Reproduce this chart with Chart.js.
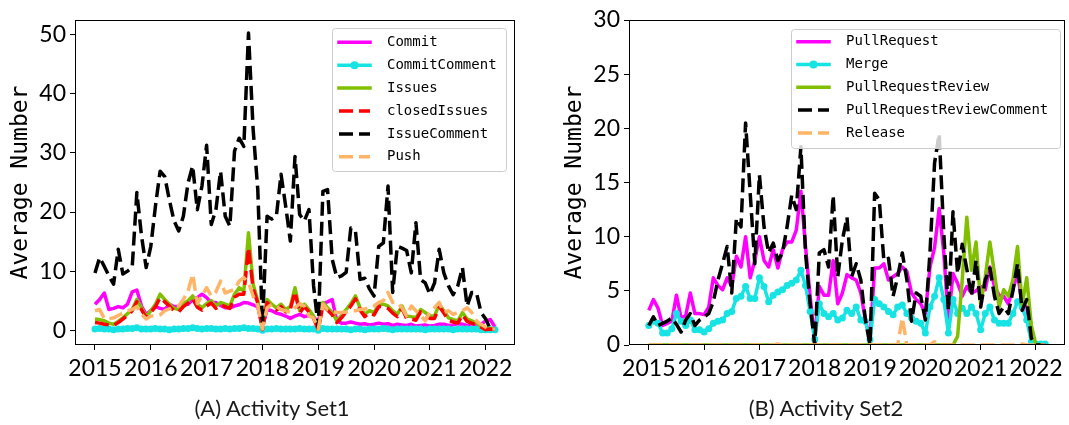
<!DOCTYPE html>
<html>
<head>
<meta charset="utf-8">
<script src="https://cdn.jsdelivr.net/npm/chart.js@4/dist/chart.umd.min.js"></script>
<style>
  html, body { margin: 0; padding: 0; background: #fff; }
  body { width: 1069px; height: 425px; position: relative; overflow: hidden; }
  .panel { position: absolute; top: 0; height: 425px; }
  #wrapA { left: 0; width: 530px; }
  #wrapB { left: 540px; width: 529px; }
  .caption { position: absolute; top: 394px; font-family: Lato, sans-serif; font-size: 22px;
             line-height: 28px; color: #1a1a1a; white-space: nowrap; transform: translateX(-50%); }
</style>
</head>
<body>
<div class="panel" id="wrapA"><canvas id="chartA" width="530" height="425"></canvas></div>
<div class="panel" id="wrapB"><canvas id="chartB" width="529" height="425"></canvas></div>
<div class="caption" style="left:272px">(A) Activity Set1</div>
<div class="caption" style="left:826px">(B) Activity Set2</div>
<script>
// Monthly averages, January 2015 – March 2022 (one row per year)
const startYear = 2015;
const yearTicks = [2015, 2016, 2017, 2018, 2019, 2020, 2021, 2022];

// ---- Activity Set 1 ----
const commit = [
  4.4, 5.2, 6.3, 3.5, 3.7, 4.0, 3.8, 4.4, 6.5, 6.8, 4.1, 2.7,
  3.3, 4.0, 3.7, 3.5, 4.4, 4.0, 4.0, 4.4, 4.4, 5.2, 5.5, 6.1,
  5.5, 4.7, 4.7, 4.2, 3.8, 3.8, 4.1, 4.3, 4.7, 4.6, 4.3, 4.0,
  0.5, 3.5, 3.3, 2.9, 2.7, 2.4, 2.0, 2.4, 2.7, 2.3, 2.5, 2.2,
  1.5, 4.5, 4.8, 5.2, 1.6, 1.2, 1.2, 1.4, 1.2, 1.0, 1.1, 0.9,
  1.0, 1.2, 1.0, 1.1, 0.8, 1.0, 0.9, 0.8, 1.0, 0.7, 0.8, 0.9,
  0.7, 0.8, 1.0, 1.0, 0.8, 0.9, 1.1, 1.0, 0.8, 0.9, 1.0, 1.0,
  1.6, 1.8, 0.5
];
const commitComment = [
  0.2, 0.3, 0.2, 0.2, 0.1, 0.2, 0.2, 0.3, 0.3, 0.4, 0.2, 0.2,
  0.2, 0.3, 0.2, 0.2, 0.1, 0.2, 0.2, 0.3, 0.3, 0.4, 0.3, 0.2,
  0.3, 0.3, 0.2, 0.2, 0.3, 0.2, 0.3, 0.3, 0.4, 0.3, 0.3, 0.2,
  0.0, 0.2, 0.2, 0.3, 0.2, 0.2, 0.2, 0.2, 0.3, 0.2, 0.2, 0.2,
  0.0, 0.3, 0.2, 0.2, 0.2, 0.2, 0.2, 0.1, 0.2, 0.2, 0.1, 0.2,
  0.2, 0.2, 0.3, 0.2, 0.1, 0.2, 0.2, 0.2, 0.2, 0.2, 0.2, 0.1,
  0.2, 0.2, 0.2, 0.2, 0.2, 0.1, 0.2, 0.2, 0.2, 0.2, 0.2, 0.1,
  0.1, 0.1, 0.1
];
const issues = [
  1.9, 1.8, 1.6, 1.2, 1.0, 1.5, 2.1, 2.8, 3.5, 5.2, 3.8, 2.3,
  3.3, 4.4, 6.1, 5.2, 4.4, 3.7, 3.5, 4.5, 5.0, 5.8, 4.4, 3.8,
  4.5, 5.0, 4.1, 4.7, 4.4, 4.1, 6.1, 7.2, 6.6, 16.5, 7.8, 5.0,
  0.2, 5.2, 4.4, 3.8, 4.4, 3.5, 4.0, 7.2, 3.3, 4.4, 3.5, 2.4,
  0.2, 4.7, 3.8, 3.0, 1.6, 2.5, 3.5, 4.5, 5.8, 3.8, 2.7, 3.3,
  3.0, 4.4, 4.4, 4.1, 3.3, 2.7, 4.1, 2.4, 2.3, 2.1, 3.5, 3.0,
  2.4, 2.4, 4.4, 3.3, 2.1, 1.8, 1.6, 3.0, 1.9, 1.6, 1.3, 0.7,
  0.2, 0.3, 0.2
];
const closedIssues = [
  1.3, 1.2, 1.0, 0.9, 0.8, 1.3, 1.9, 2.5, 3.3, 4.8, 3.5, 2.1,
  3.0, 4.0, 5.5, 4.8, 4.1, 3.3, 3.1, 4.0, 4.6, 5.3, 3.9, 3.4,
  4.1, 4.6, 3.7, 4.3, 4.0, 3.7, 5.6, 6.1, 6.1, 14.0, 7.0, 4.6,
  0.1, 4.7, 3.9, 3.4, 4.0, 3.1, 3.6, 6.5, 2.9, 4.0, 3.1, 2.0,
  0.1, 4.2, 3.4, 2.6, 1.3, 2.1, 3.1, 4.1, 5.3, 3.4, 2.3, 2.9,
  2.6, 4.0, 4.0, 3.7, 2.9, 2.3, 3.7, 2.0, 1.9, 1.7, 3.1, 2.6,
  2.0, 2.0, 4.0, 2.9, 1.7, 1.4, 1.2, 2.6, 1.5, 1.2, 0.9, 0.5,
  0.1, 0.2, 0.1
];
const issueComment = [
  9.7, 12.3, 10.8, 9.2, 7.8, 13.7, 9.5, 10.0, 10.6, 23.3, 16.0, 10.6,
  14.2, 21.0, 26.9, 26.0, 22.0, 18.5, 16.8, 19.3, 24.9, 27.8, 20.4, 24.4,
  31.3, 17.9, 20.4, 26.9, 19.3, 17.6, 30.3, 32.5, 31.1, 50.3, 34.0, 23.8,
  1.0, 19.3, 18.8, 19.3, 26.4, 21.0, 15.1, 29.4, 19.6, 18.5, 20.4, 7.5,
  0.5, 23.5, 23.8, 12.0, 8.9, 9.2, 9.8, 17.3, 16.8, 8.6, 8.8, 7.0,
  5.8, 14.2, 14.8, 24.4, 6.4, 14.2, 13.9, 13.5, 9.7, 18.2, 8.6, 8.0,
  6.1, 8.0, 13.7, 9.7, 7.5, 6.0, 7.5, 10.6, 4.1, 6.4, 6.4, 3.0,
  1.9, 0.2, 0.2
];
const push = [
  3.3, 3.5, 2.0, 1.9, 2.1, 2.5, 2.9, 3.3, 3.5, 4.0, 2.7, 1.9,
  2.4, 2.4, 2.6, 3.3, 3.6, 4.0, 4.1, 5.2, 6.6, 9.5, 4.5, 5.8,
  7.2, 5.8, 6.5, 8.3, 6.3, 6.6, 6.9, 8.3, 8.9, 8.1, 5.8, 4.1,
  0.2, 3.8, 4.4, 4.0, 3.5, 3.3, 3.0, 3.8, 4.5, 4.1, 2.4, 2.1,
  0.2, 4.4, 3.5, 3.2, 3.0, 3.0, 3.1, 3.3, 3.3, 3.5, 3.6, 3.8,
  4.1, 4.7, 5.0, 6.4, 4.7, 4.7, 3.8, 2.4, 4.1, 3.3, 2.5, 1.6,
  3.0, 3.8, 4.7, 3.0, 3.3, 2.7, 3.0, 3.3, 3.8, 3.0, 1.6, 1.0,
  0.5, 0.2, 0.2
];

// ---- Activity Set 2 ----
const pullRequest = [
  3.2, 4.2, 3.4, 1.8, 2.0, 2.2, 4.6, 2.5, 2.7, 4.8, 2.9, 2.9,
  2.8, 3.5, 6.2, 5.5, 5.1, 6.2, 5.4, 8.2, 7.2, 10.0, 6.2, 7.8,
  10.0, 7.8, 7.2, 8.8, 7.1, 8.8, 9.5, 9.5, 10.6, 14.2, 9.1, 4.5,
  0.5, 5.4, 4.6, 4.6, 7.8, 3.8, 4.8, 6.5, 6.2, 6.0, 4.8, 2.3,
  0.5, 7.1, 7.1, 7.5, 6.0, 6.3, 6.6, 7.2, 6.8, 4.8, 4.2, 3.8,
  2.9, 7.2, 9.0, 12.6, 8.5, 2.3, 6.6, 5.7, 4.5, 5.4, 4.8, 5.0,
  5.4, 5.1, 7.2, 5.4, 4.6, 4.5, 3.8, 5.2, 6.6, 3.8, 3.5, 0.6,
  0.0, 0.0, 0.0
];
const merge = [
  1.8, 2.2, 2.0, 1.1, 1.1, 1.5, 2.9, 2.2, 1.8, 2.3, 1.4, 1.4,
  1.2, 1.5, 2.0, 2.2, 2.3, 2.9, 3.1, 4.3, 4.5, 5.4, 4.3, 4.3,
  6.2, 5.4, 4.0, 4.6, 4.9, 5.1, 5.5, 5.7, 6.0, 6.9, 5.5, 3.1,
  0.5, 3.8, 2.9, 2.6, 2.9, 2.3, 2.5, 3.2, 2.9, 3.5, 2.3, 2.2,
  0.5, 4.2, 3.8, 3.5, 3.1, 2.8, 3.5, 3.7, 2.9, 2.5, 2.2, 2.0,
  1.1, 3.5, 4.5, 6.2, 4.2, 1.1, 4.2, 2.9, 3.4, 2.9, 3.5, 2.9,
  1.4, 2.9, 3.5, 2.3, 2.0, 2.0, 2.0, 2.9, 4.0, 3.5, 2.3, 0.3,
  0.1, 0.1, 0.1
];
const pullRequestReview = [
  0, 0, 0, 0, 0, 0, 0, 0, 0, 0, 0, 0,
  0, 0, 0, 0, 0, 0, 0, 0, 0, 0, 0, 0,
  0, 0, 0, 0, 0, 0, 0, 0, 0, 0, 0, 0,
  0, 0, 0, 0, 0, 0, 0, 0, 0, 0, 0, 0,
  0, 0, 0, 0, 0, 0, 0, 0, 0, 0, 0, 0,
  0, 0, 0, 0, 0, 0, 0, 0.8, 6.0, 11.8, 6.9, 9.5,
  3.8, 6.3, 9.5, 6.6, 3.5, 5.1, 4.5, 6.0, 9.1, 3.7, 6.2, 1.8,
  0, 0, 0
];
const pullRequestReviewComment = [
  1.8, 2.6, 1.8, 2.0, 2.2, 2.5, 1.9, 1.2, 2.3, 2.9, 1.8, 2.3,
  2.6, 2.9, 4.0, 6.0, 7.5, 9.1, 4.8, 11.7, 10.9, 20.5, 14.0, 7.5,
  15.7, 10.9, 8.5, 9.4, 7.8, 8.5, 10.9, 13.8, 12.5, 18.3, 8.5, 3.8,
  0.0, 8.5, 8.8, 7.2, 13.8, 6.3, 9.7, 11.8, 6.3, 7.5, 6.0, 2.3,
  0.0, 14.0, 13.4, 7.8, 8.0, 4.5, 6.3, 8.5, 6.0, 2.2, 4.8, 4.5,
  2.3, 8.5, 16.8, 19.5, 10.3, 3.2, 12.3, 6.6, 9.3, 7.0, 4.5, 7.8,
  3.5, 6.0, 7.1, 4.5, 2.9, 3.5, 2.9, 5.0, 7.5, 3.2, 4.2, 0.6,
  0, 0, 0
];
const release = [
  0, 0, 0, 0, 0, 0, 0, 0, 0, 0, 0, 0,
  0, 0, 0, 0, 0, 0, 0, 0, 0, 0, 0, 0,
  0, 0, 0, 0, 0.1, 0, 0, 0, 0, 0, 0, 0,
  0, 0, 0, 0, 0, 0, 0, 0, 0, 0, 0, 0,
  0, 0, 0, 0, 0, 0, 0, 2.5, 0, 0, 0, 0,
  0, 0, 0.3, 0, 0, 0, 0, 0, 0, 0, 0, 0,
  0, 0, 0, 0, 0, 0, 0, 0, 0, 0.1, 0, 0,
  0, 0, 0
];

// decimal-year position of each month
const months = commit.map((_, i) => startYear + i / 12);

const COLORS = {
  magenta: '#ff00ff',
  cyan: '#17e3e3',
  green: '#80c000',
  red: '#ff0000',
  black: '#000000',
  orange: '#ffb468'
};
const DASH = [14, 6];

function series(label, values, color, opts = {}) {
  return Object.assign({
    label,
    data: values.map((v, i) => ({ x: months[i], y: v })),
    borderColor: color,
    backgroundColor: color,
    borderWidth: 3.5,
    borderJoinStyle: 'round',
    borderCapStyle: 'butt',
    pointRadius: 0,
    pointBorderWidth: 0,
    pointBackgroundColor: color,
    fill: false,
    tension: 0
  }, opts);
}

// plot frame drawn over the lines, like closed axes spines
const framePlugin = {
  id: 'frame',
  afterDatasetsDraw(chart) {
    const { ctx, chartArea: a } = chart;
    const l = Math.round(a.left) + 0.5, r = Math.round(a.right) - 0.5;
    const t = Math.round(a.top) + 0.5, b = Math.round(a.bottom) - 0.5;
    ctx.save();
    ctx.strokeStyle = '#000';
    ctx.lineWidth = 1;
    ctx.setLineDash([]);
    ctx.strokeRect(l, t, r - l, b - t);
    ctx.restore();
  }
};

// boxed legend placed inside the plot area
const boxLegend = {
  id: 'boxLegend',
  afterDraw(chart, args, o) {
    const { ctx } = chart;
    ctx.save();
    ctx.beginPath();
    const r = 3, x = o.x + 0.5, y = o.y + 0.5, w = o.w, h = o.h;
    ctx.moveTo(x + r, y);
    ctx.arcTo(x + w, y, x + w, y + h, r);
    ctx.arcTo(x + w, y + h, x, y + h, r);
    ctx.arcTo(x, y + h, x, y, r);
    ctx.arcTo(x, y, x + w, y, r);
    ctx.closePath();
    ctx.fillStyle = 'rgba(255,255,255,0.8)';
    ctx.fill();
    ctx.strokeStyle = '#cccccc';
    ctx.lineWidth = 1;
    ctx.stroke();

    chart.data.datasets.forEach((ds, k) => {
      const cy = o.y + o.firstRow + k * o.rowGap;
      const sx0 = o.x + o.sampleStart, sx1 = o.x + o.sampleEnd;
      ctx.strokeStyle = ds.borderColor;
      ctx.lineWidth = ds.borderWidth;
      ctx.lineCap = ds.borderDash ? 'butt' : 'square';
      ctx.setLineDash(ds.borderDash || []);
      ctx.beginPath();
      ctx.moveTo(sx0, cy);
      ctx.lineTo(sx1, cy);
      ctx.stroke();
      ctx.setLineDash([]);
      if (ds.pointRadius > 0) {
        ctx.fillStyle = ds.pointBackgroundColor;
        ctx.beginPath();
        ctx.arc((sx0 + sx1) / 2, cy, ds.pointRadius + 0.5, 0, Math.PI * 2);
        ctx.fill();
      }
      ctx.fillStyle = '#000';
      ctx.font = o.font;
      ctx.textBaseline = 'middle';
      ctx.textAlign = 'left';
      ctx.fillText(ds.label, o.x + o.textStart, cy);
    });
    ctx.restore();
  }
};

function makeChart(canvasId, datasets, y, layout) {
  return new Chart(document.getElementById(canvasId), {
    type: 'line',
    data: { datasets },
    plugins: [framePlugin, boxLegend],
    options: {
      responsive: false,
      animation: false,
      events: [],
      devicePixelRatio: 1,
      layout: { padding: { top: 20, right: layout.padRight, left: 0, bottom: 0 } },
      plugins: {
        legend: { display: false },
        tooltip: { enabled: false },
        boxLegend: layout.legend
      },
      scales: {
        x: {
          type: 'linear',
          min: 2014.642,
          max: 2022.525,
          afterBuildTicks: (s) => { s.ticks = yearTicks.map(v => ({ value: v })); },
          afterFit: (s) => { s.height = 80; },
          border: { display: false },
          grid: { display: true, drawOnChartArea: false, drawTicks: true, tickLength: 5, color: '#000' },
          ticks: {
            autoSkip: false, maxRotation: 0, padding: 5, color: '#000',
            font: { family: 'Lato', size: 23 },
            callback: (v) => String(v)
          }
        },
        y: {
          min: y.min,
          max: y.max,
          afterBuildTicks: (s) => { s.ticks = y.ticks.map(v => ({ value: v })); },
          afterFit: (s) => { s.width = layout.yWidth; },
          border: { display: false },
          grid: { display: true, drawOnChartArea: false, drawTicks: true, tickLength: 5, color: '#000' },
          ticks: {
            padding: 4, color: '#000',
            font: { family: 'Lato', size: 23 },
            callback: (v) => String(v)
          },
          title: {
            display: true,
            text: 'Average Number',
            color: '#000',
            padding: { top: layout.titlePad, bottom: 0 },
            font: { family: 'DejaVu Sans Mono', size: 23 }
          }
        }
      }
    }
  });
}

const setA = [
  series('Commit', commit, COLORS.magenta, { order: 5 }),
  series('CommitComment', commitComment, COLORS.cyan, { order: 4, pointRadius: 3.5 }),
  series('Issues', issues, COLORS.green, { order: 3 }),
  series('closedIssues', closedIssues, COLORS.red, { order: 2, borderDash: DASH }),
  series('IssueComment', issueComment, COLORS.black, { order: 1, borderDash: DASH }),
  series('Push', push, COLORS.orange, { order: 0, borderDash: DASH })
];

const setB = [
  series('PullRequest', pullRequest, COLORS.magenta, { order: 4, clip: 0 }),
  series('Merge', merge, COLORS.cyan, { order: 3, pointRadius: 3.5, clip: 0 }),
  series('PullRequestReview', pullRequestReview, COLORS.green, { order: 2, clip: 0 }),
  series('PullRequestReviewComment', pullRequestReviewComment, COLORS.black, { order: 1, borderDash: DASH, clip: 0 }),
  series('Release', release, COLORS.orange, { order: 0, borderDash: DASH, clip: 0 })
];

makeChart('chartA', setA,
  { min: -2.5, max: 52.5, ticks: [0, 10, 20, 30, 40, 50] },
  { padRight: 15, yWidth: 75, titlePad: 7,
    legend: { x: 332, y: 28, w: 174, h: 143, firstRow: 14.3, rowGap: 22.9,
              sampleStart: 7, sampleEnd: 38, textStart: 55, font: '14px "DejaVu Sans Mono"' } });

makeChart('chartB', setB,
  { min: 0, max: 30, ticks: [0, 5, 10, 15, 20, 25, 30] },
  { padRight: 1, yWidth: 89, titlePad: 21,
    legend: { x: 251, y: 29, w: 269, h: 119, firstRow: 12.7, rowGap: 22.8,
              sampleStart: 7, sampleEnd: 38, textStart: 55, font: '14px "DejaVu Sans Mono"' } });
</script>
</body>
</html>
